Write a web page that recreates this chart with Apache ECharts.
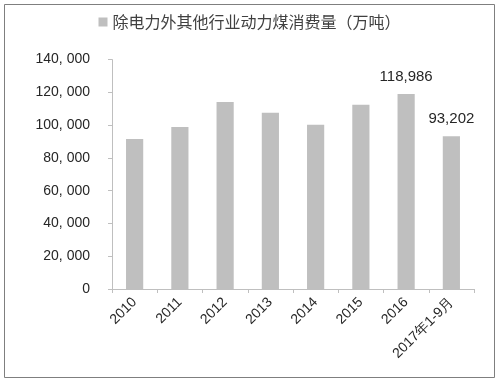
<!DOCTYPE html>
<html><head><meta charset="utf-8">
<script src="https://cdn.jsdelivr.net/npm/echarts@6/dist/echarts.min.js"></script>
<style>html,body{margin:0;padding:0;background:#fff;}#c{width:499px;height:381px;}</style>
</head><body><div id="c"></div>
<script>
var categories = ['2010','2011','2012','2013','2014','2015','2016','2017年1-9月'];
var seriesName = '除电力外其他行业动力煤消费量（万吨）';
var values = [91500, 98900, 114200, 107500, 100300, 112500, 118986, 93202];
var labeledIdx = [6, 7];
var yTicks = [0, 20000, 40000, 60000, 80000, 100000, 120000, 140000];

var chart = echarts.init(document.getElementById('c'));
chart.setOption({
  animation: false,
  backgroundColor: '#fff',
  graphic: [{type:'rect', shape:{x:4.5,y:4.5,width:490,height:373}, style:{fill:'none',stroke:'#7f7f7f',lineWidth:1}}],
  legend: {
    top: 9, left: 'center', itemWidth: 9, itemHeight: 9, itemGap: 4,
    icon: 'rect',
    textStyle: {fontFamily: 'Noto Sans CJK SC', fontSize: 16, color: '#404040'},
    data: [seriesName]
  },
  grid: {left: 112, right: 25, top: 59.6, bottom: 92},
  xAxis: {
    type: 'category', data: categories,
    axisLine: {lineStyle: {color: '#bfbfbf'}},
    axisTick: {show: true, length: 4, lineStyle: {color: '#bfbfbf'}},
    axisLabel: {rotate: 45, interval: 0, margin: 11, fontFamily: 'Liberation Sans', fontSize: 14, color: '#262626'}
  },
  yAxis: {
    type: 'value', min: yTicks[0], max: yTicks[yTicks.length-1], interval: 20000,
    splitLine: {show: false},
    axisLine: {show: true, lineStyle: {color: '#bfbfbf'}},
    axisTick: {show: true, length: 4, lineStyle: {color: '#bfbfbf'}},
    axisLabel: {margin: 22, fontFamily: 'Liberation Sans', fontSize: 14, color: '#262626',
      formatter: function(v){ return v === 0 ? '0' : Math.floor(v/1000) + ', ' + String(v%1000).padStart(3,'0'); }}
  },
  series: [{
    name: seriesName, type: 'bar', barWidth: '38%',
    itemStyle: {color: '#bfbfbf'},
    data: values.map(function(v, i){
      return labeledIdx.indexOf(i) >= 0 ? {value: v, label: {show: true}} : v;
    }),
    label: {show: false, position: 'top', distance: 10, fontFamily: 'Liberation Sans', fontSize: 15, color: '#262626',
      formatter: function(p){ return p.value.toLocaleString('en-US'); }}
  }]
});
</script></body></html>
